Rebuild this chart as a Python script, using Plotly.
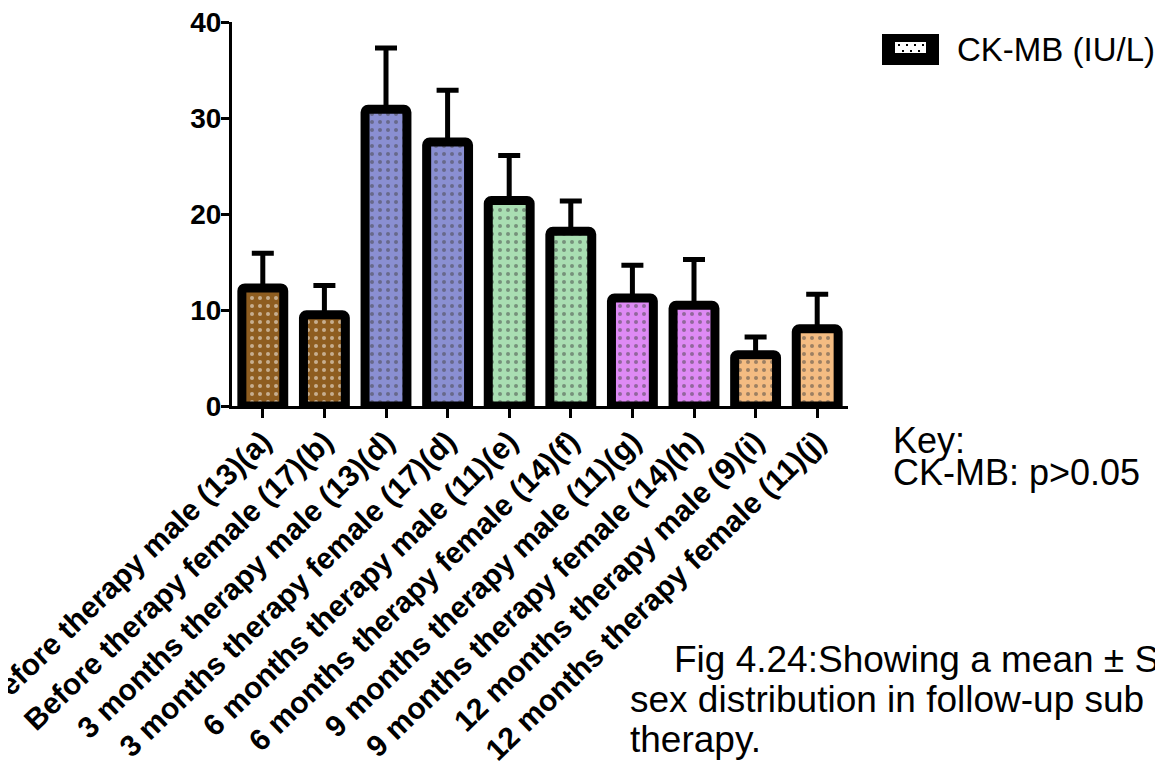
import plotly.graph_objects as go

categories = [
    "Before therapy male (13)(a)",
    "Before therapy female (17)(b)",
    "3 months therapy male (13)(d)",
    "3 months therapy female (17)(d)",
    "6 months therapy male (11)(e)",
    "6 months therapy female (14)(f)",
    "9 months therapy male (11)(g)",
    "9 months therapy female (14)(h)",
    "12 months therapy male (9)(i)",
    "12 months therapy female (11)(j)",
]
means = [12.3, 9.5, 30.9, 27.5, 21.4, 18.2, 11.25, 10.5, 5.35, 8.05]
upper = [15.9, 12.55, 37.3, 32.9, 26.1, 21.35, 14.65, 15.25, 7.2, 11.65]
colors = ["#8E5D20", "#8E5D20", "#8A8FD2", "#8A8FD2", "#A9DEB2", "#A9DEB2",
          "#DE8AF5", "#DE8AF5", "#F4BC82", "#F4BC82"]
y_ticks = [0, 10, 20, 30, 40]

err_plus = [u - m for u, m in zip(upper, means)]

FONT = "Arial, Liberation Sans, sans-serif"

fig = go.Figure()
fig.add_trace(go.Bar(
    x=list(range(len(categories))),
    y=means,
    width=0.68,
    marker=dict(
        color=colors,
        line=dict(color="black", width=9),
        pattern=dict(shape=".", fgcolor="black", size=8, solidity=0.2, fillmode="overlay"),
        cornerradius=3,
    ),
    error_y=dict(type="data", symmetric=False, array=err_plus,
                 arrayminus=[0] * len(means), color="black", thickness=5, width=11),
    showlegend=False,
))

# page px -> paper helpers (plot area on page: x 232..848, y 22..406)
def px(x):
    return (x - 232) / 616.0

def py(y):
    return (406 - y) / 384.0

shapes = [
    dict(type="rect", xref="paper", yref="paper", x0=px(883), x1=px(938), y0=py(64), y1=py(35),
         fillcolor="black", line=dict(color="black", width=2)),
    dict(type="rect", xref="paper", yref="paper", x0=px(895), x1=px(926), y0=py(53), y1=py(42),
         fillcolor="white", line=dict(width=0)),
]
for dx, dy in [(898, 44), (906, 44), (914, 44), (922, 44), (902, 50), (910, 50), (918, 50)]:
    shapes.append(dict(type="rect", xref="paper", yref="paper", x0=px(dx), x1=px(dx + 2),
                       y0=py(dy + 2), y1=py(dy), fillcolor="black", line=dict(width=0)))

annotations = [
    dict(text="CK-MB (IU/L)", x=px(955), y=py(50), xref="paper", yref="paper",
         xanchor="left", yanchor="middle", showarrow=False, font=dict(family=FONT, size=33, color="black")),
    dict(text="Key:", x=px(891), y=py(440), xref="paper", yref="paper",
         xanchor="left", yanchor="middle", showarrow=False, font=dict(family=FONT, size=36, color="black")),
    dict(text="CK-MB: p>0.05", x=px(891), y=py(472), xref="paper", yref="paper",
         xanchor="left", yanchor="middle", showarrow=False, font=dict(family=FONT, size=36, color="black")),
    dict(text="Fig 4.24:Showing a mean ± S", x=px(672), y=py(659), xref="paper", yref="paper",
         xanchor="left", yanchor="middle", showarrow=False, font=dict(family=FONT, size=37, color="black")),
    dict(text="sex distribution in follow-up sub", x=px(628), y=py(699), xref="paper", yref="paper",
         xanchor="left", yanchor="middle", showarrow=False, font=dict(family=FONT, size=37, color="black")),
    dict(text="therapy.", x=px(628), y=py(739), xref="paper", yref="paper",
         xanchor="left", yanchor="middle", showarrow=False, font=dict(family=FONT, size=37, color="black")),
]

# the page body adds an 8px offset, so the figure is 1155x757 drawn at (8, 8)
fig.update_layout(
    width=1155, height=757,
    margin=dict(l=224, r=315, t=14, b=359),
    plot_bgcolor="white", paper_bgcolor="white",
    font=dict(family=FONT, color="black"),
    shapes=shapes,
    annotations=annotations,
)
fig.update_xaxes(
    range=[-0.5, 9.5], tickmode="array", tickvals=list(range(len(categories))), ticktext=categories,
    tickangle=-44, automargin=False, ticklabeloverflow="allow",
    ticklabelstandoff=-6,
    showline=True, linecolor="black", linewidth=3,
    ticks="outside", ticklen=9, tickwidth=3, tickcolor="black",
    tickfont=dict(family=FONT, size=30, color="black", weight="bold"),
    showgrid=False, zeroline=False,
)
fig.update_yaxes(
    range=[0, 40], tickvals=y_ticks, automargin=False, ticklabeloverflow="allow",
    ticklabelstandoff=-6,
    showline=True, linecolor="black", linewidth=3,
    ticks="outside", ticklen=8, tickwidth=3, tickcolor="black",
    tickfont=dict(family=FONT, size=28, color="black", weight="bold"),
    showgrid=False, zeroline=False,
)

fig.write_html("out.html")
